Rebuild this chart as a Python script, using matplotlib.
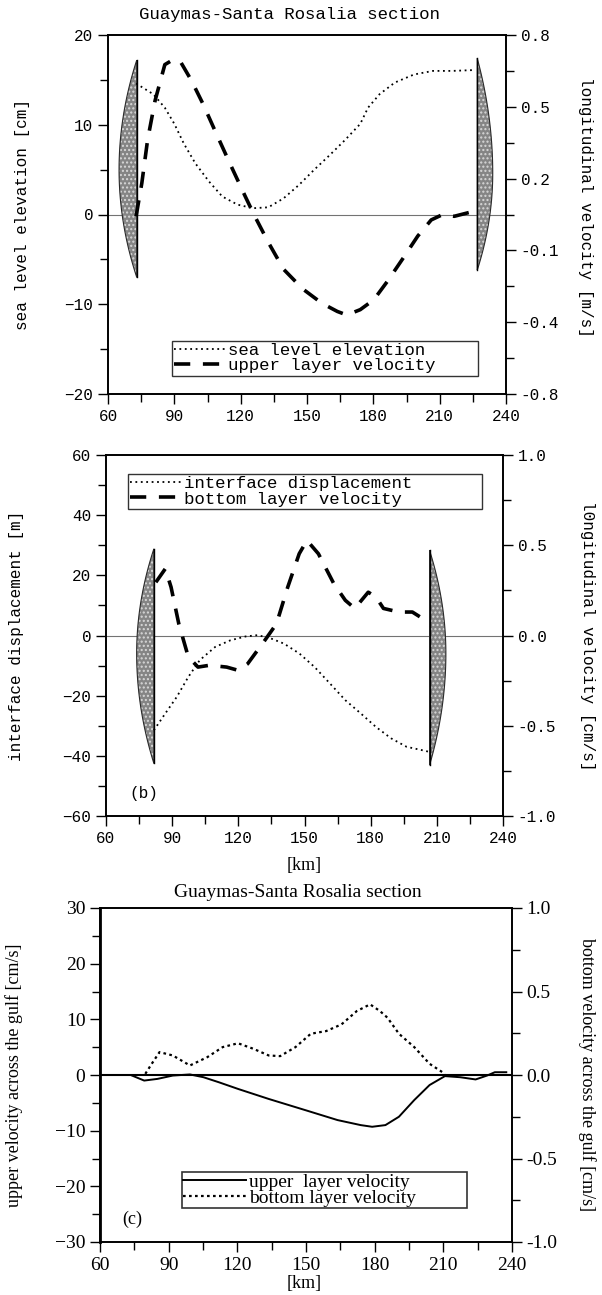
import numpy as np
import matplotlib
matplotlib.use("Agg")
import matplotlib.pyplot as plt
from matplotlib.ticker import MultipleLocator, FixedLocator

MONO = "Liberation Mono"
SERIF = "Liberation Serif"

# ------------------------------------------------------------------
# (a) sea level elevation [cm] and upper layer velocity [m/s]
# ------------------------------------------------------------------
sea_x = [72.7, 80.5, 85.7, 90.0, 94.3, 99.5, 105.6, 111.7, 118.6, 125.5,
         132.5, 139.4, 146.4, 153.3, 160.2, 167.2, 174.1, 177.6, 182.8,
         189.7, 198.4, 207.0, 215.7, 226.1]
sea_y = [14.6, 13.4, 11.9, 10.1, 7.9, 5.7, 3.7, 2.0, 1.1, 0.7,
         0.8, 1.8, 3.3, 5.0, 6.6, 8.3, 10.1, 11.9, 13.4,
         14.7, 15.6, 16.0, 16.0, 16.1]

up_x = [72.7, 75.3, 77.9, 81.3, 85.7, 89.1, 92.6, 97.8, 103.0, 109.0,
        115.1, 122.1, 126.4, 132.5, 139.4, 148.1, 156.8, 163.7, 168.0,
        174.1, 180.2, 186.2, 193.1, 200.1, 206.2, 211.4, 216.6, 226.1]
up_v = [-0.008, 0.14, 0.332, 0.508, 0.668, 0.688, 0.684, 0.596, 0.492, 0.36,
        0.228, 0.08, -0.008, -0.124, -0.244, -0.332, -0.396, -0.432, -0.448,
        -0.424, -0.38, -0.30, -0.20, -0.096, -0.024, 0.0, -0.008, 0.016]

# ------------------------------------------------------------------
# (b) interface displacement [m] and bottom layer velocity [cm/s]
# ------------------------------------------------------------------
int_x = [81.7, 86.9, 92.1, 97.3, 102.5, 109.5, 116.4, 123.4, 128.6, 133.8,
         140.7, 147.7, 154.6, 161.6, 168.5, 175.5, 182.4, 189.3, 196.3,
         203.2, 206.7]
int_y = [-31.5, -25.9, -20.4, -13.8, -8.2, -3.8, -1.6, -0.3, 0.1, -0.7,
         -2.7, -6.0, -10.5, -16.0, -21.5, -25.9, -30.4, -34.2, -37.0,
         -38.1, -38.7]

bot_x = [82.6, 86.9, 89.5, 93.0, 97.3, 101.7, 106.9, 114.7, 119.9, 124.2,
         132.0, 137.3, 142.4, 147.6, 151.1, 156.3, 163.3, 168.5, 172.8,
         178.9, 182.4, 185.8, 192.8, 198.9, 205.0]
bot_v = [0.295, 0.37, 0.268, 0.065, -0.118, -0.175, -0.165, -0.175, -0.193,
         -0.157, -0.027, 0.065, 0.268, 0.453, 0.527, 0.453, 0.287, 0.195,
         0.15, 0.24, 0.213, 0.15, 0.13, 0.13, 0.083]

# ------------------------------------------------------------------
# (c) velocities across the gulf
# ------------------------------------------------------------------
ua_x = [60.0, 73.4, 79.3, 85.1, 91.8, 99.3, 105.2, 111.9, 120.3, 133.7,
        150.4, 163.8, 173.9, 178.9, 184.7, 190.6, 197.3, 204.0, 210.7,
        217.4, 224.1, 229.1, 232.5, 237.5]
ua_y = [0.0, 0.0, -1.0, -0.7, -0.1, 0.1, -0.4, -1.3, -2.5, -4.3,
        -6.4, -8.1, -9.0, -9.3, -9.0, -7.5, -4.5, -1.8, -0.2,
        -0.4, -0.8, -0.1, 0.5, 0.5]

ba_x = [79.8, 82.6, 86.0, 91.8, 99.3, 106.9, 113.6, 120.3, 127.0, 133.7,
        138.7, 145.4, 152.1, 158.8, 165.5, 172.2, 178.0, 182.3, 185.6,
        190.6, 197.3, 204.0, 210.7]
ba_v = [0.007, 0.067, 0.137, 0.117, 0.057, 0.107, 0.167, 0.19, 0.157, 0.117,
        0.113, 0.167, 0.247, 0.263, 0.303, 0.383, 0.423, 0.383, 0.343,
        0.247, 0.167, 0.067, 0.007]

# coast "lens" markers: straight edge x, top, bottom, widest y, bulge (signed)
lens_a = [(73.0, 17.2, -7.0, 5.0, -8.0), (227.0, 17.4, -6.2, 4.6, 7.0)]
lens_b = [(81.7, 28.8, -42.5, -6.0, -7.8), (206.7, 28.3, -43.1, -6.0, 7.4)]

right_a_ticks = ["0.8", "0.5", "0.2", "-0.1", "-0.4", "-0.8"]


def draw_lens(ax, x0, top, bot, ymid, bulge):
    yy = np.linspace(top, bot, 80)
    half = np.where(yy >= ymid, top - ymid, ymid - bot)
    w = bulge * (1 - ((yy - ymid) / half) ** 2)
    xs = np.concatenate([[x0], x0 + w, [x0]])
    ys = np.concatenate([[top], yy, [bot]])
    ax.fill(xs, ys, facecolor="#858585", edgecolor="#d8d8d8", hatch="....",
            linewidth=0, zorder=2)
    ax.fill(xs, ys, facecolor="none", edgecolor="#2a2a2a", linewidth=0.8,
            zorder=2)
    ax.plot([x0, x0], [top, bot], color="black", lw=1.0, zorder=3)


def style_axes(ax, font, size):
    for lab in ax.get_xticklabels() + ax.get_yticklabels():
        lab.set_fontfamily(font)
        lab.set_fontsize(size)
    ax.tick_params(which="both", direction="out", width=1.0)
    ax.tick_params(which="major", length=7)
    ax.tick_params(which="minor", length=6)
    for s in ax.spines.values():
        s.set_linewidth(1.2)


fig = plt.figure(figsize=(6.02, 12.95), dpi=100)

# ------------------------------ panel (a)
ax1 = fig.add_axes([108 / 602, 1 - 394 / 1295, 398 / 602, 359 / 1295])
ax1r = ax1.twinx()
ax1.set_xlim(60, 240)
ax1.set_ylim(-20, 20)
ax1r.set_ylim(-0.8, 0.8)
ax1.axhline(0, color="0.45", lw=0.8, zorder=1)
for p in lens_a:
    draw_lens(ax1, *p)
ax1.plot(sea_x, sea_y, color="black", lw=1.3, linestyle=(0, (1, 2)),
         label="sea level elevation", zorder=4)
ax1r.plot(up_x, up_v, color="black", lw=2.6, linestyle=(0, (4.5, 3.5)),
          zorder=4)
ax1.plot([], [], color="black", lw=2.6, linestyle=(0, (4.5, 3.5)),
         label="upper layer velocity")
ax1.xaxis.set_major_locator(MultipleLocator(30))
ax1.xaxis.set_minor_locator(MultipleLocator(15))
ax1.yaxis.set_major_locator(MultipleLocator(10))
ax1.yaxis.set_minor_locator(MultipleLocator(5))
rt = np.linspace(0.8, -0.8, 6)
ax1r.yaxis.set_major_locator(FixedLocator(rt))
ax1r.set_yticklabels(right_a_ticks)
ax1r.yaxis.set_minor_locator(FixedLocator((rt[:-1] + rt[1:]) / 2))
style_axes(ax1, MONO, 11.5)
style_axes(ax1r, MONO, 11.5)
ax1.set_ylabel("sea level elevation [cm]", family=MONO, fontsize=11.5)
ax1r.set_ylabel("longitudinal velocity [m/s]", family=MONO, fontsize=11.5,
                rotation=270, va="center")
ax1.yaxis.set_label_coords(-0.196, 0.5)
ax1r.yaxis.set_label_coords(1.201, 0.52)
ax1.text(0.455, 1.058, "Guaymas-Santa Rosalia section", transform=ax1.transAxes,
         ha="center", va="center", family=MONO, fontsize=12.5)
leg = ax1.legend(loc="lower left", bbox_to_anchor=(0.16, 0.05, 0.77, 0.1),
                 mode="expand", prop={"family": MONO, "size": 12.5},
                 frameon=True, fancybox=False, edgecolor="black",
                 handlelength=2.9, handletextpad=0.2, borderpad=0.15,
                 labelspacing=0.0, borderaxespad=0)
leg.get_frame().set_linewidth(1.0)

# ------------------------------ panel (b)
ax2 = fig.add_axes([106 / 602, 1 - 816 / 1295, 397 / 602, 361 / 1295])
ax2r = ax2.twinx()
ax2.set_xlim(60, 240)
ax2.set_ylim(-60, 60)
ax2r.set_ylim(-1.0, 1.0)
ax2.axhline(0, color="0.45", lw=0.8, zorder=1)
for p in lens_b:
    draw_lens(ax2, *p)
ax2.plot(int_x, int_y, color="black", lw=1.3, linestyle=(0, (1, 2)),
         label="interface displacement", zorder=4)
ax2r.plot(bot_x, bot_v, color="black", lw=2.6, linestyle=(0, (4.5, 3.5)),
          zorder=4)
ax2.plot([], [], color="black", lw=2.6, linestyle=(0, (4.5, 3.5)),
         label="bottom layer velocity")
ax2.xaxis.set_major_locator(MultipleLocator(30))
ax2.xaxis.set_minor_locator(MultipleLocator(15))
ax2.yaxis.set_major_locator(MultipleLocator(20))
ax2.yaxis.set_minor_locator(MultipleLocator(10))
ax2r.yaxis.set_major_locator(MultipleLocator(0.5))
ax2r.yaxis.set_minor_locator(MultipleLocator(0.25))
ax2r.yaxis.set_major_formatter(lambda v, pos: f"{v:.1f}")
style_axes(ax2, MONO, 11.5)
style_axes(ax2r, MONO, 11.5)
ax2.set_ylabel("interface displacement [m]", family=MONO, fontsize=11.5)
ax2r.set_ylabel("l0ngitudinal velocity [cm/s]", family=MONO, fontsize=11.5,
                rotation=270, va="center")
ax2.yaxis.set_label_coords(-0.207, 0.5)
ax2r.yaxis.set_label_coords(1.212, 0.5)
ax2.set_xlabel("[km]", family=SERIF, fontsize=13)
ax2.xaxis.set_label_coords((304 - 106) / 397, -(857 - 816) / 361)
ax2.text(0.06, 0.05, "(b)", transform=ax2.transAxes, family=MONO, fontsize=11.5)
leg = ax2.legend(loc="lower left", bbox_to_anchor=(0.055, 0.85, 0.893, 0.108),
                 mode="expand", prop={"family": MONO, "size": 12.5},
                 frameon=True, fancybox=False, edgecolor="black",
                 handlelength=2.9, handletextpad=0.2, borderpad=0.15,
                 labelspacing=0.0, borderaxespad=0)
leg.get_frame().set_linewidth(1.0)

# ------------------------------ panel (c)
ax3 = fig.add_axes([100 / 602, 1 - 1242 / 1295, 412 / 602, 334 / 1295])
ax3r = ax3.twinx()
ax3.set_xlim(60, 240)
ax3.set_ylim(-30, 30)
ax3r.set_ylim(-1.0, 1.0)
ax3.axhline(0, color="black", lw=1.5, zorder=1)
ax3.plot(ua_x, ua_y, color="black", lw=1.4, label="upper  layer velocity",
         zorder=4)
ax3r.plot(ba_x, ba_v, color="black", lw=1.6, linestyle=(0, (1.2, 1.5)),
          zorder=4)
ax3.plot([], [], color="black", lw=1.6, linestyle=(0, (1.2, 1.5)),
         label="bottom layer velocity")
ax3.xaxis.set_major_locator(MultipleLocator(30))
ax3.xaxis.set_minor_locator(MultipleLocator(15))
ax3.yaxis.set_major_locator(MultipleLocator(10))
ax3.yaxis.set_minor_locator(MultipleLocator(5))
ax3r.yaxis.set_major_locator(MultipleLocator(0.5))
ax3r.yaxis.set_minor_locator(MultipleLocator(0.25))
ax3r.yaxis.set_major_formatter(lambda v, pos: f"{v:.1f}")
style_axes(ax3, SERIF, 14)
style_axes(ax3r, SERIF, 14)
ax3.spines["left"].set_linewidth(2.0)
ax3.set_ylabel("upper velocity across the gulf [cm/s]", family=SERIF,
               fontsize=13)
ax3r.set_ylabel("bottom velocity across the gulf [cm/s]", family=SERIF,
                fontsize=13, rotation=270, va="center")
ax3.yaxis.set_label_coords(-0.187, 0.5)
ax3r.yaxis.set_label_coords(1.182, 0.5)
ax3.set_xlabel("[km]", family=SERIF, fontsize=13)
ax3.xaxis.set_label_coords((304 - 100) / 412, -(1275 - 1242) / 334)
ax3.text(0.48, 1.045, "Guaymas-Santa Rosalia section", transform=ax3.transAxes,
         ha="center", va="center", family=SERIF, fontsize=14)
ax3.text(0.055, 0.055, "(c)", transform=ax3.transAxes, family=SERIF, fontsize=13)
leg = ax3.legend(loc="lower left", bbox_to_anchor=(0.2, 0.103, 0.69, 0.1),
                 mode="expand", prop={"family": SERIF, "size": 14},
                 frameon=True, fancybox=False, edgecolor="black",
                 handlelength=3.2, handletextpad=0.2, borderpad=0.05,
                 labelspacing=-0.1, borderaxespad=0)
leg.get_frame().set_linewidth(1.2)

fig.savefig("out.png", dpi=100)
